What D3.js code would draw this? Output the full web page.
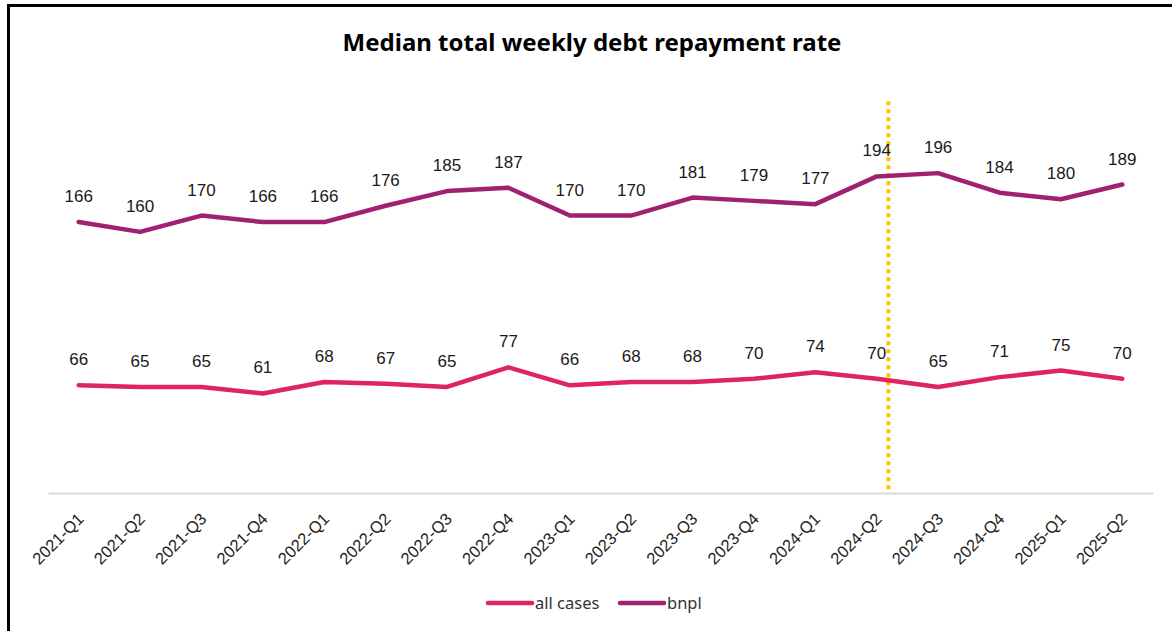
<!DOCTYPE html>
<html>
<head>
<meta charset="utf-8">
<script src="https://cdn.jsdelivr.net/npm/d3@7"></script>
<style>
  html, body { margin: 0; padding: 0; background: #fff; }
  svg { display: block; }
</style>
</head>
<body>
<div id="chart"></div>
<script>
// Quarterly categories
const quarters = ["2021-Q1","2021-Q2","2021-Q3","2021-Q4","2022-Q1","2022-Q2","2022-Q3","2022-Q4",
  "2023-Q1","2023-Q2","2023-Q3","2023-Q4","2024-Q1","2024-Q2","2024-Q3","2024-Q4","2025-Q1","2025-Q2"];

// Median total weekly debt repayment, by group
const allCases = [66,65,65,61,68,67,65,77,66,68,68,70,74,70,65,71,75,70];
const bnpl     = [166,160,170,166,166,176,185,187,170,170,181,179,177,194,196,184,180,189];

const seriesNames = ["all cases", "bnpl"];
const seriesColors = ["#E0245E", "#A0216F"];

// Marker for the 2024-Q2 break
const markerQuarter = "2024-Q2";
const markerTop = 240;

const W = 1172, H = 631;
const svg = d3.select("#chart").append("svg").attr("width", W).attr("height", H);

// Frame around the chart
svg.append("rect")
  .attr("x", 8.5).attr("y", 5.5).attr("width", W + 10).attr("height", H + 10)
  .attr("fill", "none").attr("stroke", "#000").attr("stroke-width", 3);

// Title
svg.append("text")
  .attr("x", 592).attr("y", 51)
  .attr("text-anchor", "middle")
  .attr("font-family", "'Noto Sans', sans-serif")
  .attr("font-weight", 700)
  .attr("font-size", 24)
  .attr("fill", "#000")
  .text("Median total weekly debt repayment rate");

const x = d3.scaleBand().domain(quarters).range([48, 1153]);
const y = d3.scaleLinear().domain([0, 250]).range([493, 85]);
const cx = q => x(q) + x.bandwidth() / 2;

// Baseline axis
const xAxis = svg.append("g")
  .attr("transform", `translate(0,${y(0)})`)
  .call(d3.axisBottom(x).tickSize(0).tickPadding(0));
xAxis.select(".domain").attr("stroke", "#d9d9d9").attr("stroke-width", 2);
xAxis.selectAll(".tick text")
  .attr("font-family", "'Liberation Sans', Arial, sans-serif")
  .attr("font-size", 16.5)
  .attr("fill", "#222")
  .attr("text-anchor", "end")
  .attr("dy", null)
  .attr("y", 0)
  .attr("transform", "translate(6,27) rotate(-45)");

// Dotted vertical marker
svg.append("line")
  .attr("x1", cx(markerQuarter) + x.bandwidth() * 0.19)
  .attr("x2", cx(markerQuarter) + x.bandwidth() * 0.19)
  .attr("y1", y(markerTop)).attr("y2", y(0))
  .attr("stroke", "#FFC000").attr("stroke-width", 4)
  .attr("stroke-dasharray", "4,4");

const line = d3.line().x((d, i) => cx(quarters[i])).y(d => y(d));

[allCases, bnpl].forEach((vals, s) => {
  svg.append("path")
    .datum(vals)
    .attr("d", line)
    .attr("fill", "none")
    .attr("stroke", seriesColors[s])
    .attr("stroke-width", 4.5)
    .attr("stroke-linejoin", "round")
    .attr("stroke-linecap", "round");

  svg.append("g").selectAll("text")
    .data(vals)
    .join("text")
    .attr("x", (d, i) => cx(quarters[i]))
    .attr("y", d => y(d) - 20)
    .attr("text-anchor", "middle")
    .attr("font-family", "'Liberation Sans', Arial, sans-serif")
    .attr("font-size", 17)
    .attr("fill", "#1a1a1a")
    .text(d => d);
});

// Legend
const legendX = [488, 620];
seriesNames.forEach((name, s) => {
  const g = svg.append("g").attr("transform", `translate(${legendX[s]},603)`);
  g.append("line").attr("x1", 0).attr("x2", 44).attr("y1", 0).attr("y2", 0)
    .attr("stroke", seriesColors[s]).attr("stroke-width", 4.5).attr("stroke-linecap", "round");
  g.append("text").attr("x", 47).attr("y", 5.5)
    .attr("font-family", "'Noto Sans', sans-serif")
    .attr("font-size", 16.5)
    .attr("fill", "#333")
    .text(name);
});
</script>
</body>
</html>
